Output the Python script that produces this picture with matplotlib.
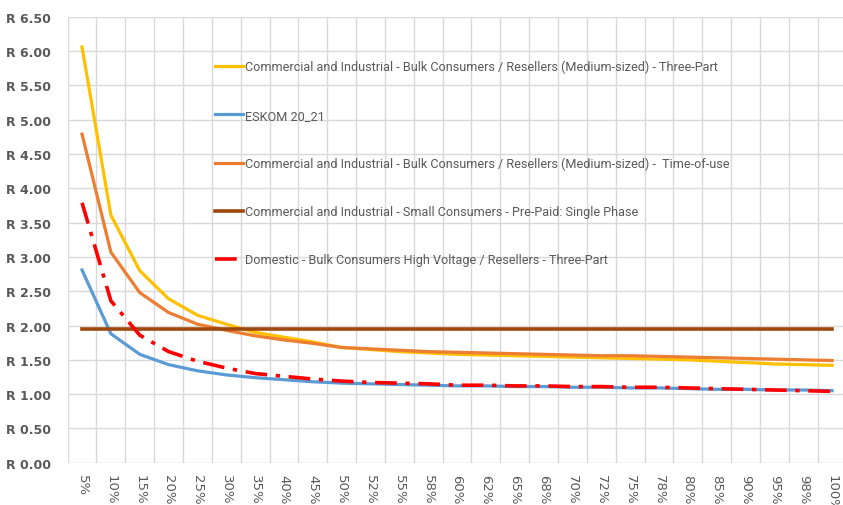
import matplotlib
matplotlib.use("Agg")
import matplotlib.pyplot as plt
from matplotlib.ticker import FuncFormatter, MultipleLocator

# load factor categories (as labelled on the axis)
load_factor = ["5%", "10%", "15%", "20%", "25%", "30%", "35%", "40%", "45%", "50%",
               "52%", "55%", "58%", "60%", "62%", "65%", "68%", "70%", "72%", "75%",
               "78%", "80%", "85%", "90%", "95%", "98%", "100%"]

ci_bulk_three_part = [6.06, 3.61, 2.80, 2.39, 2.15, 2.02, 1.90, 1.83, 1.76, 1.68,
                      1.65, 1.62, 1.60, 1.58, 1.57, 1.56, 1.55, 1.54, 1.53, 1.52,
                      1.51, 1.50, 1.48, 1.46, 1.44, 1.43, 1.42]
eskom_20_21 = [2.81, 1.88, 1.58, 1.43, 1.34, 1.28, 1.24, 1.21, 1.18, 1.16,
               1.15, 1.14, 1.13, 1.12, 1.12, 1.11, 1.11, 1.10, 1.10, 1.09,
               1.09, 1.08, 1.07, 1.07, 1.06, 1.06, 1.05]
ci_bulk_tou = [4.79, 3.07, 2.48, 2.19, 2.02, 1.93, 1.85, 1.79, 1.74, 1.68,
               1.66, 1.64, 1.62, 1.61, 1.60, 1.59, 1.58, 1.57, 1.56, 1.56,
               1.55, 1.54, 1.53, 1.52, 1.51, 1.50, 1.49]
ci_small_prepaid = [1.95] * len(load_factor)
dom_bulk_hv = [3.79, 2.36, 1.86, 1.62, 1.48, 1.38, 1.30, 1.26, 1.22, 1.19,
               1.17, 1.16, 1.15, 1.13, 1.13, 1.12, 1.12, 1.11, 1.11, 1.10,
               1.10, 1.09, 1.08, 1.07, 1.06, 1.05, 1.04]

labels = ["Commercial and Industrial - Bulk Consumers / Resellers (Medium-sized) - Three-Part",
          "ESKOM 20_21",
          "Commercial and Industrial - Bulk Consumers / Resellers (Medium-sized) -  Time-of-use",
          "Commercial and Industrial - Small Consumers - Pre-Paid: Single Phase",
          "Domestic - Bulk Consumers High Voltage / Resellers - Three-Part"]

fig = plt.figure(figsize=(8.43, 5.06), dpi=100)
ax = fig.add_axes([0.0802, 0.0836, 0.924, 0.881])

x = range(len(load_factor))
lw = 2.3
ax.plot(x, ci_bulk_three_part, color="#FFC000", lw=lw, label=labels[0])
ax.plot(x, eskom_20_21, color="#5B9BD5", lw=lw, label=labels[1])
ax.plot(x, ci_bulk_tou, color="#ED7D31", lw=lw, label=labels[2])
ax.plot(x, ci_small_prepaid, color="#9E480E", lw=lw + 0.3, label=labels[3])
ax.plot(x, dom_bulk_hv, color="#FF0000", lw=2.6, linestyle=(0, (6, 2.4, 1.2, 2.4)),
        dash_capstyle="butt", label=labels[4])

ax.set_xlim(-0.5, len(load_factor) - 0.5)
ax.set_ylim(0, 6.5)
ax.yaxis.set_major_locator(MultipleLocator(0.5))
ax.yaxis.set_major_formatter(FuncFormatter(lambda v, p: "R %.2f" % v))

ax.set_xticks(list(x))
ax.set_xticklabels(load_factor, rotation=-90, fontsize=9.5, color="#595959")
ax.set_xticks([i + 0.5 for i in range(-1, len(load_factor))], minor=True)
ax.tick_params(axis="x", which="both", length=0, pad=8)
ax.tick_params(axis="y", length=0, pad=12, labelsize=9, labelcolor="#595959")
for t in ax.get_yticklabels():
    t.set_fontweight("bold")

ax.grid(True, which="major", axis="y", color="#D9D9D9", lw=1)
ax.grid(True, which="minor", axis="x", color="#D9D9D9", lw=1)
ax.set_axisbelow(True)
for s in ax.spines.values():
    s.set_visible(False)

leg = ax.legend(loc="upper left", bbox_to_anchor=(215 / 843, 1 - 61 / 506),
                bbox_transform=fig.transFigure, frameon=False,
                prop={"family": "Roboto", "size": 9.1},
                labelspacing=2.78, handlelength=2.25, handletextpad=0.15,
                borderpad=0, borderaxespad=0)
for t in leg.get_texts():
    t.set_color("#595959")

fig.savefig("out.png", dpi=100)
